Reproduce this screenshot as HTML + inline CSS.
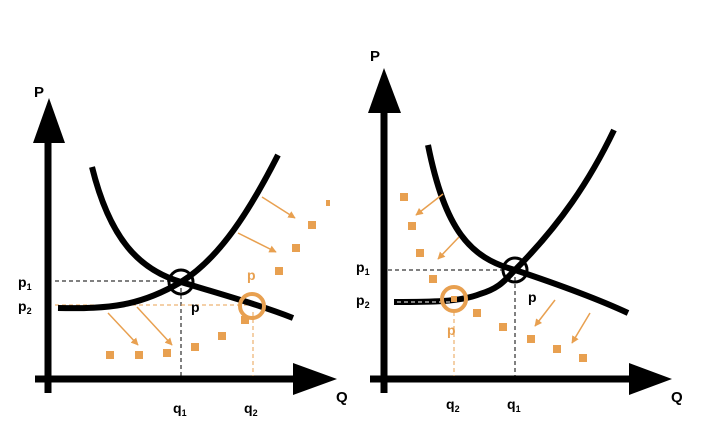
<!DOCTYPE html>
<html><head><meta charset="utf-8"><style>html,body{margin:0;padding:0;background:#fff}svg{display:block}</style></head>
<body>
<svg width="704" height="437" viewBox="0 0 704 437" xmlns="http://www.w3.org/2000/svg" font-family="Liberation Sans, sans-serif" font-weight="bold">
<defs>
<marker id="ah" viewBox="0 0 10 10" refX="9" refY="5" markerWidth="5" markerHeight="5" orient="auto"><path d="M0,0L10,5L0,10z" fill="#e8a050"/></marker>
</defs>
<!-- LEFT -->
<g>
<line x1="48" y1="393" x2="48" y2="140" stroke="#000" stroke-width="7"/>
<polygon points="49,98 33,143 65,143" fill="#000"/>
<line x1="35" y1="379" x2="296" y2="379" stroke="#000" stroke-width="7"/>
<polygon points="337,379 293,363 293,395" fill="#000"/>
<line x1="55" y1="281" x2="181" y2="281" stroke="#000" stroke-width="1" stroke-dasharray="4,3"/>
<line x1="181" y1="281" x2="181" y2="376" stroke="#000" stroke-width="1" stroke-dasharray="4,3"/>
<line x1="55" y1="305" x2="250" y2="305" stroke="#e8a050" stroke-width="1" stroke-dasharray="4,3"/>
<line x1="253" y1="312" x2="253" y2="376" stroke="#e8a050" stroke-width="1" stroke-dasharray="4,3"/>
<path d="M58,308 C110,309 140,306 181,282 C220,258 250,210 278,155" fill="none" stroke="#000" stroke-width="6"/>
<path d="M92,167 C110,240 140,270 181,282 C220,294 260,305 293,318" fill="none" stroke="#000" stroke-width="6"/>
<circle cx="181" cy="282" r="12" fill="none" stroke="#000" stroke-width="3"/>
<circle cx="252" cy="306" r="12" fill="none" stroke="#e8a050" stroke-width="4"/>
<g fill="#e8a050">
<rect x="106" y="351" width="8" height="8"/><rect x="135" y="351" width="8" height="8"/><rect x="163" y="349" width="8" height="8"/><rect x="191" y="343" width="8" height="8"/><rect x="218" y="332" width="8" height="8"/><rect x="241" y="316" width="8" height="8"/><rect x="275" y="267" width="8" height="8"/><rect x="292" y="244" width="8" height="8"/><rect x="308" y="221" width="8" height="8"/><rect x="326" y="200" width="4" height="6"/>
</g>
<g stroke="#e8a050" stroke-width="1.5" marker-end="url(#ah)">
<line x1="262" y1="197" x2="295" y2="218"/><line x1="238" y1="233" x2="276" y2="252"/><line x1="108" y1="313" x2="138" y2="345"/><line x1="137" y1="307" x2="172" y2="345"/>
</g>
<text x="34" y="97" font-size="15">P</text>
<text x="336" y="402" font-size="15">Q</text>
<text x="18" y="287" font-size="14">p<tspan font-size="9" dy="3">1</tspan></text>
<text x="18" y="311" font-size="14">p<tspan font-size="9" dy="3">2</tspan></text>
<text x="191" y="312" font-size="14">p</text>
<text x="247" y="280" font-size="14" fill="#e8a050">p</text>
<text x="173" y="413" font-size="14">q<tspan font-size="9" dy="3">1</tspan></text>
<text x="244" y="413" font-size="14">q<tspan font-size="9" dy="3">2</tspan></text>
</g>
<!-- RIGHT -->
<g>
<line x1="384" y1="393" x2="384" y2="110" stroke="#000" stroke-width="7"/>
<polygon points="384,68 368,113 401,113" fill="#000"/>
<line x1="370" y1="379" x2="632" y2="379" stroke="#000" stroke-width="7"/>
<polygon points="672,379 629,363 629,395" fill="#000"/>
<line x1="388" y1="270" x2="515" y2="270" stroke="#000" stroke-width="1" stroke-dasharray="4,3"/>
<line x1="515" y1="270" x2="515" y2="376" stroke="#000" stroke-width="1" stroke-dasharray="4,3"/>
<line x1="454" y1="312" x2="454" y2="376" stroke="#e8a050" stroke-width="1" stroke-dasharray="4,3"/>
<path d="M394,302 C430,302 460,302 480,294 C500,288 505,280 515,270 C560,225 590,180 614,130" fill="none" stroke="#000" stroke-width="6"/>
<path d="M428,145 C445,230 470,258 515,270 C560,285 600,300 628,313" fill="none" stroke="#000" stroke-width="6"/>
<line x1="390" y1="302" x2="450" y2="302" stroke="#fff" stroke-width="1" stroke-dasharray="4,3"/>
<circle cx="515" cy="270" r="12" fill="none" stroke="#000" stroke-width="3"/>
<circle cx="454" cy="299" r="12" fill="none" stroke="#e8a050" stroke-width="4"/>
<g fill="#e8a050">
<rect x="400" y="193" width="8" height="8"/><rect x="408" y="222" width="8" height="8"/><rect x="416" y="249" width="8" height="8"/><rect x="429" y="275" width="8" height="8"/><rect x="451" y="296" width="6" height="6"/><rect x="473" y="309" width="8" height="8"/><rect x="499" y="323" width="8" height="8"/><rect x="527" y="335" width="8" height="8"/><rect x="553" y="345" width="8" height="8"/><rect x="579" y="354" width="8" height="8"/>
</g>
<g stroke="#e8a050" stroke-width="1.5" marker-end="url(#ah)">
<line x1="443" y1="194" x2="416" y2="215"/><line x1="459" y1="237" x2="438" y2="259"/><line x1="555" y1="300" x2="535" y2="326"/><line x1="590" y1="313" x2="572" y2="343"/>
</g>
<text x="370" y="61" font-size="15">P</text>
<text x="671" y="402" font-size="15">Q</text>
<text x="356" y="272" font-size="14">p<tspan font-size="9" dy="3">1</tspan></text>
<text x="356" y="305" font-size="14">p<tspan font-size="9" dy="3">2</tspan></text>
<text x="528" y="302" font-size="14">p</text>
<text x="447" y="335" font-size="14" fill="#e8a050">p</text>
<text x="446" y="409" font-size="14">q<tspan font-size="9" dy="3">2</tspan></text>
<text x="507" y="409" font-size="14">q<tspan font-size="9" dy="3">1</tspan></text>
</g>
</svg>
</body></html>
